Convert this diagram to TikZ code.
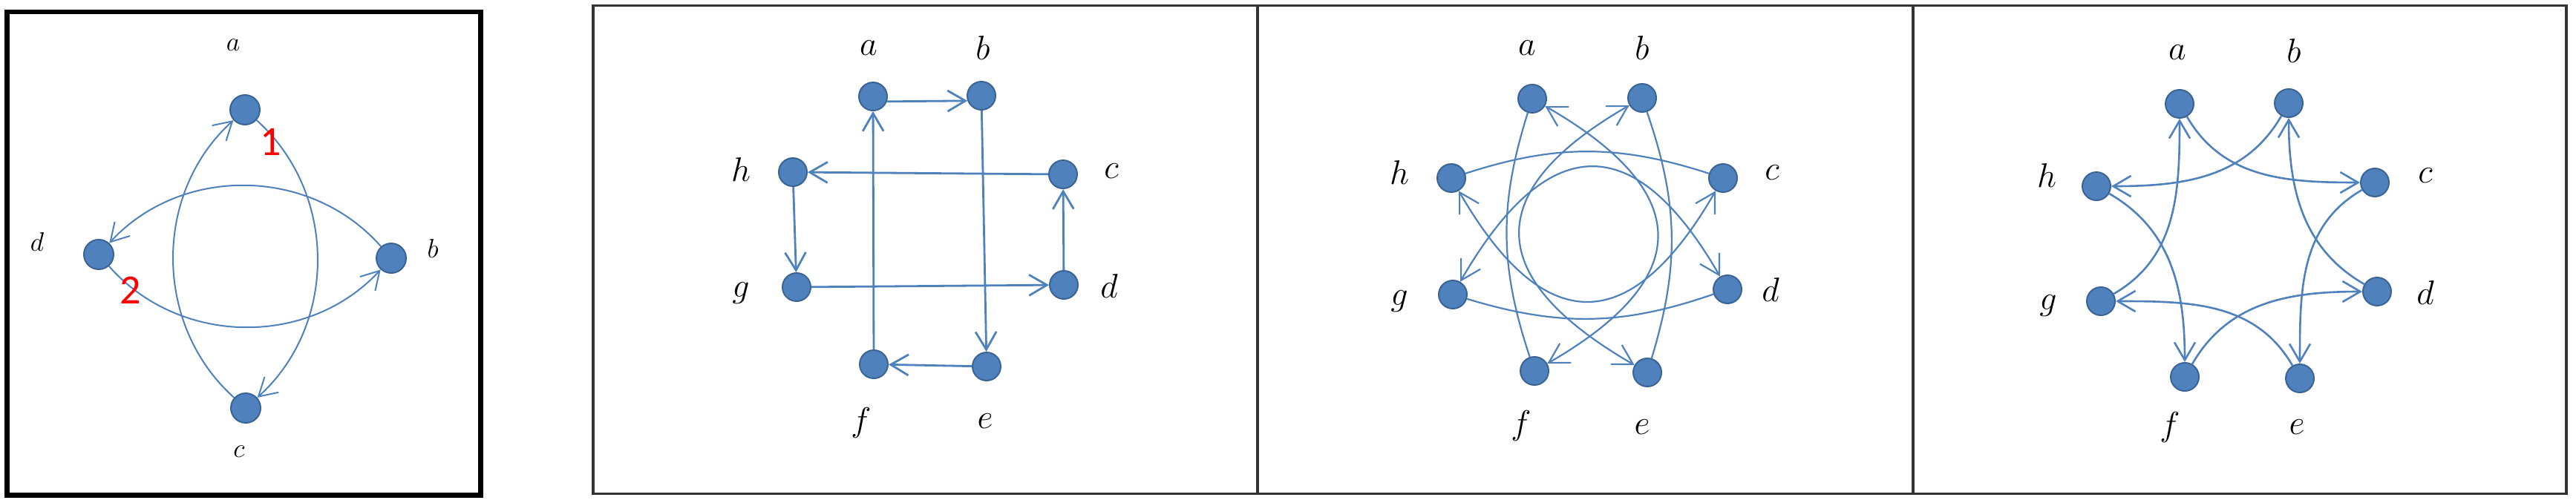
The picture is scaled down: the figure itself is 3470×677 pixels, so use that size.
\RequirePackage{fix-cm}
\documentclass[tikz,border=0pt]{standalone}
\usepackage{fontspec}
\newfontfamily\carl{Carlito}
\usetikzlibrary{arrows.meta}
\definecolor{edgeblue}{HTML}{4F81BD}
\definecolor{nodefill}{HTML}{4F81BD}
\definecolor{nodeline}{HTML}{3B6496}
\begin{document}
\begin{tikzpicture}[x=0.5pt,y=0.5pt,
  vtx/.style={circle, fill=nodefill, draw=nodeline, line width=1pt, minimum size=19pt, inner sep=0pt},
  vtxA/.style={vtx, minimum size=20pt},
  lblA/.style={inner sep=0pt, font=\fontsize{18}{18}\selectfont},
  lbl/.style={inner sep=0pt, font=\fontsize{23}{23}\selectfont},
  redlbl/.style={inner sep=0pt, text=red, font=\carl\fontsize{28}{28}\selectfont},
  edgeA/.style={draw=edgeblue, line width=1pt},
  edgeB/.style={draw=edgeblue, line width=1.4pt},
  edgeC/.style={draw=edgeblue, line width=1.1pt},
  edgeD/.style={draw=edgeblue, line width=1.3pt},
  arr/.style={-{Straight Barb[length=12pt,width=14pt]}},
  arrboth/.style={{Straight Barb[length=13pt,width=15pt]}-{Straight Barb[length=13pt,width=15pt]}},
  frameA/.style={draw=black, line width=3.25pt},
  frameB/.style={draw=black!80, line width=1.75pt}
]
\useasboundingbox (0,0) rectangle (3470,677);

% frames
\draw[frameA] (9.5,9.5) rectangle (647.5,661);
\draw[frameB] (799,11.5) rectangle (3457,669.5);
\coordinate (d1t) at (1694,669.5); \coordinate (d1b) at (1694,11.5);
\coordinate (d2t) at (2577,669.5); \coordinate (d2b) at (2577,11.5);
\draw[frameB] (d1t) -- (d1b);
\draw[frameB] (d2t) -- (d2b);

% ---------- panel 1 ----------
\node[vtxA] (pa) at (330,529) {};
\node[vtxA] (pb) at (527,329) {};
\node[vtxA] (pc) at (331,127) {};
\node[vtxA] (pd) at (133,334) {};
\node[lblA] (pla) at (314,616) {$a$};
\node[lblA] (plb) at (583,342) {$b$};
\node[lblA] (plc) at (322,68) {$c$};
\node[lblA] (pld) at (50,351) {$d$};
\draw[edgeA,arr] (pa) to[bend left=48] (pc);
\draw[edgeA,arr] (pc) to[bend left=48] (pa);
\draw[edgeA,arr] (pb) to[bend right=48] (pd);
\draw[edgeA,arr] (pd) to[bend right=48] (pb);
\node[redlbl] (one) at (365,486) {1};
\node[redlbl] (two) at (176,286) {2};

% ---------- panel 2 ----------
\node[vtx] (qa) at (1176,547) {};
\node[vtx] (qb) at (1322,548) {};
\node[vtx] (qc) at (1432,442) {};
\node[vtx] (qd) at (1433,293) {};
\node[vtx] (qe) at (1329,183) {};
\node[vtx] (qf) at (1177,186) {};
\node[vtx] (qg) at (1073,290) {};
\node[vtx] (qh) at (1068,445) {};
\node[lbl] (qla) at (1170,612) {$a$};
\node[lbl] (qlb) at (1324,612) {$b$};
\node[lbl] (qlc) at (1497,446) {$c$};
\node[lbl] (qld) at (1494,291) {$d$};
\node[lbl] (qle) at (1327,109) {$e$};
\node[lbl] (qlf) at (1160,107) {$f$};
\node[lbl] (qlg) at (998,282) {$g$};
\node[lbl] (qlh) at (998,448) {$h$};
\draw[edgeB,arr] (qa.-20) -- (qb.-160);
\draw[edgeB,arr] (qb) -- (qe);
\draw[edgeB,arr] (qe) -- (qf);
\draw[edgeB,arr] (qf) -- (qa);
\draw[edgeB,arr] (qc) -- (qh);
\draw[edgeB,arr] (qh) -- (qg);
\draw[edgeB,arr] (qg) -- (qd);
\draw[edgeB,arr] (qd) -- (qc);

% ---------- panel 3 ----------
\node[vtx] (ra) at (2064,544) {};
\node[vtx] (rb) at (2212,545) {};
\node[vtx] (rc) at (2321,437) {};
\node[vtx] (rd) at (2327,287) {};
\node[vtx] (re) at (2219,175) {};
\node[vtx] (rf) at (2067,177) {};
\node[vtx] (rg) at (1957,280) {};
\node[vtx] (rh) at (1955,437) {};
\node[lbl] (rla) at (2057,612) {$a$};
\node[lbl] (rlb) at (2212,612) {$b$};
\node[lbl] (rlc) at (2387,444) {$c$};
\node[lbl] (rld) at (2385,286) {$d$};
\node[lbl] (rle) at (2212,101) {$e$};
\node[lbl] (rlf) at (2049,103) {$f$};
\node[lbl] (rlg) at (1885,271) {$g$};
\node[lbl] (rlh) at (1885,444) {$h$};
% outer arcs
\draw[edgeC] (ra) to[bend right=18] (rf);
\draw[edgeC] (rc) to[bend right=18] (rh);
\draw[edgeC] (re) to[bend right=18] (rb);
\draw[edgeC] (rg) to[bend right=18] (rd);
% inner (ring) arcs
\draw[edgeC,arrboth] (ra) to[out=-30,in=30,looseness=1.7] (rf);
\draw[edgeC,arrboth] (rb) to[out=-150,in=150,looseness=1.7] (re);
\draw[edgeC,arrboth] (rc) to[out=-120,in=-60,looseness=1.7] (rh);
\draw[edgeC,arrboth] (rd) to[out=120,in=60,looseness=1.7] (rg);

% ---------- panel 4 ----------
\node[vtx] (sa) at (2936,537) {};
\node[vtx] (sb) at (3083,538) {};
\node[vtx] (sc) at (3199,431) {};
\node[vtx] (sd) at (3202,284) {};
\node[vtx] (se) at (3098,167) {};
\node[vtx] (sf) at (2943,169) {};
\node[vtx] (sg) at (2830,271) {};
\node[vtx] (sh) at (2824,426) {};
\node[lbl] (sla) at (2933,606) {$a$};
\node[lbl] (slb) at (3090,608) {$b$};
\node[lbl] (slc) at (3267,440) {$c$};
\node[lbl] (sld) at (3267,282) {$d$};
\node[lbl] (sle) at (3094,101) {$e$};
\node[lbl] (slf) at (2923,101) {$f$};
\node[lbl] (slg) at (2759,265) {$g$};
\node[lbl] (slh) at (2757,440) {$h$};
\draw[edgeD,arr] (sa) to[out=-60,in=180] (sc);
\draw[edgeD,arr] (sc) to[out=-150,in=90] (se);
\draw[edgeD,arr] (se) to[out=120,in=0] (sg);
\draw[edgeD,arr] (sg) to[out=30,in=-90] (sa);
\draw[edgeD,arr] (sb) to[out=-120,in=0] (sh);
\draw[edgeD,arr] (sh) to[out=-30,in=90] (sf);
\draw[edgeD,arr] (sf) to[out=60,in=180] (sd);
\draw[edgeD,arr] (sd) to[out=150,in=-90] (sb);
\end{tikzpicture}
\end{document}
